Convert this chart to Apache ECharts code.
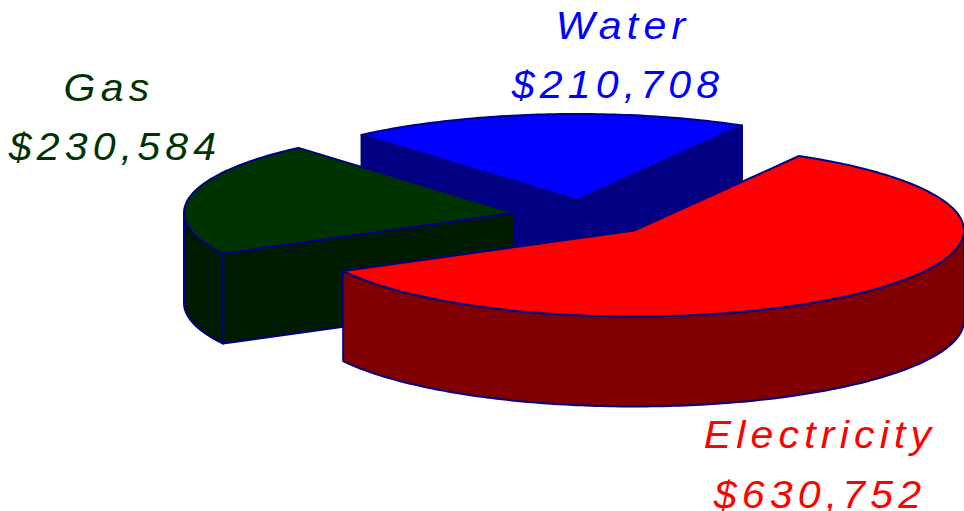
<!DOCTYPE html>
<html>
<head>
<meta charset="utf-8">
<style>
html,body{margin:0;padding:0;background:#fff;}
#chart{width:964px;height:511px;}
#chart svg text{letter-spacing:4.8px;}
</style>
<script src="https://cdn.jsdelivr.net/npm/echarts@6/dist/echarts.min.js"></script>
</head>
<body>
<div id="chart"></div>
<script>
var categories = ['Electricity', 'Gas', 'Water'];
var values = [630752, 230584, 210708];
var topColors = ['#ff0000', '#003300', '#0000ff'];
var sideColors = ['#800000', '#001a00', '#000080'];

// Layout of the exploded slices (apex of each) and of their labels.
var apexX = [634, 514, 577];
var apexY = [230.5, 213, 200];
var nameX = [820, 109, 623];
var valueX = [820, 115, 618];
var nameBaseline = [448, 101, 39];
var valueBaseline = [508, 160, 98];
var RX = 330, RY = 86, DEPTH = 90, START_DEG = -60, STRETCH = 1.08, BASELINE_SHIFT = 13;
var OUTLINE = '#000080';

var total = values.reduce(function (a, b) { return a + b; }, 0);

function ellipsePoint(cx, cy, t, dy) {
  return [cx + RX * Math.cos(t), cy + RY * Math.sin(t) + (dy || 0)];
}
function arc(cx, cy, t0, t1, dy) {
  var pts = [], n = Math.max(2, Math.ceil(Math.abs(t1 - t0) * 60));
  for (var i = 0; i <= n; i++) {
    pts.push(ellipsePoint(cx, cy, t0 + (t1 - t0) * i / n, dy));
  }
  return pts;
}
function poly(points, fill, width) {
  return {
    type: 'polygon',
    shape: { points: points },
    style: { fill: fill, stroke: OUTLINE, lineWidth: width, lineJoin: 'round' }
  };
}
function radialFace(cx, cy, t, fill) {
  var e = ellipsePoint(cx, cy, t);
  return poly([[cx, cy], e, [e[0], e[1] + DEPTH], [cx, cy + DEPTH]], fill, 2);
}
function label(text, x, baseline, color) {
  return {
    type: 'text',
    x: x, y: baseline - BASELINE_SHIFT,
    scaleX: STRETCH,
    style: {
      text: text, x: 0, y: 0,
      fill: color,
      font: 'italic 38px "Liberation Sans", Arial, sans-serif',
      align: 'center', verticalAlign: 'middle'
    }
  };
}
function money(v) {
  return '$' + v.toLocaleString('en-US');
}

function renderSlice(i, api) {
  var before = 0;
  for (var k = 0; k < i; k++) before += values[k];
  var t0 = (START_DEG + 360 * before / total) * Math.PI / 180;
  var t1 = t0 + 2 * Math.PI * api.value(0) / total;
  var cx = apexX[i], cy = apexY[i];
  var kids = [];

  if (-Math.cos(t0) > 0) kids.push(radialFace(cx, cy, t0, sideColors[i]));
  if (Math.cos(t1) > 0) kids.push(radialFace(cx, cy, t1, sideColors[i]));

  // Outer wall: only the front half of the rim (0..180 degrees) is visible.
  var a = Math.max(t0, 0), b = Math.min(t1, Math.PI);
  if (b > a) {
    var rimTop = arc(cx, cy, a, b, 0);
    var rimBottom = arc(cx, cy, b, a, DEPTH);
    kids.push(poly(rimTop.concat(rimBottom), sideColors[i], 2));
  }

  // Top surface
  kids.push(poly([[cx, cy]].concat(arc(cx, cy, t0, t1, 0)), topColors[i], 2));

  kids.push(label(categories[i], nameX[i], nameBaseline[i], topColors[i]));
  kids.push(label(money(api.value(0)), valueX[i], valueBaseline[i], topColors[i]));
  return { type: 'group', children: kids };
}

// Painter's order: back slices first.
var drawOrder = [2, 1, 0];
var chart = echarts.init(document.getElementById('chart'), null, { renderer: 'svg' });
chart.setOption({
  backgroundColor: '#ffffff',
  animation: false,
  series: drawOrder.map(function (idx) {
    return {
      type: 'custom',
      name: categories[idx],
      coordinateSystem: 'none',
      clip: false,
      silent: true,
      data: [{ value: [values[idx]] }],
      renderItem: function (params, api) {
        return renderSlice(idx, api);
      }
    };
  })
});
</script>
</body>
</html>
